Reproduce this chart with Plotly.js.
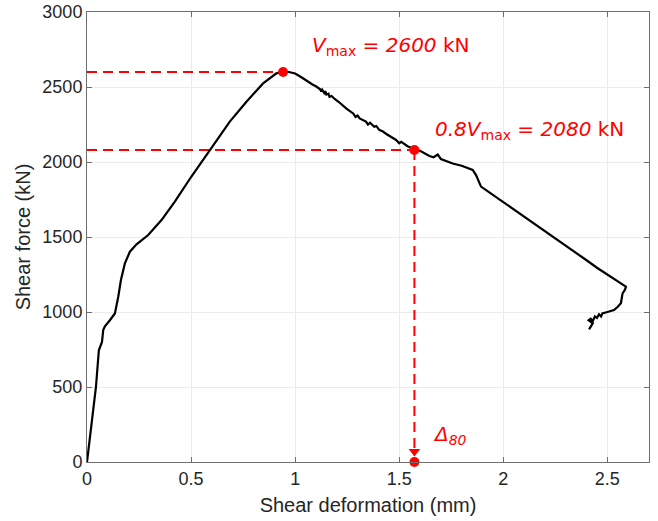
<!DOCTYPE html>
<html>
<head>
<meta charset="utf-8">
<script src="https://cdn.plot.ly/plotly-3.0.1.min.js"></script>
<style>html,body{margin:0;padding:0;background:#fff;}#chart{width:658px;height:521px;}</style>
</head>
<body>
<div id="chart"></div>
<script>
// Shear deformation (mm) and shear force (kN)
const deformation = [0, 0.02, 0.043, 0.057, 0.065, 0.072, 0.078, 0.086, 0.11, 0.134, 0.15, 0.163, 0.182, 0.206, 0.238, 0.294, 0.358, 0.422, 0.5, 0.59, 0.686, 0.766, 0.846, 0.91, 0.942, 0.97, 0.99, 1.0, 1.03, 1.061, 1.085, 1.10, 1.12, 1.125, 1.13, 1.14, 1.145, 1.15, 1.16, 1.165, 1.175, 1.19, 1.21, 1.245, 1.28, 1.29, 1.30, 1.31, 1.325, 1.34, 1.35, 1.36, 1.38, 1.39, 1.405, 1.42, 1.44, 1.46, 1.485, 1.50, 1.51, 1.54, 1.573, 1.60, 1.645, 1.665, 1.685, 1.70, 1.73, 1.757, 1.80, 1.837, 1.853, 1.869, 1.893, 2.0, 2.2, 2.40, 2.45, 2.52, 2.589, 2.585, 2.573, 2.570, 2.565, 2.55, 2.532, 2.50, 2.476, 2.47, 2.46, 2.45, 2.44, 2.43, 2.42, 2.41, 2.43, 2.412];
const shearForce = [0, 230, 500, 745, 775, 800, 880, 905, 945, 990, 1100, 1213, 1324, 1402, 1451, 1513, 1613, 1736, 1900, 2080, 2269, 2402, 2524, 2591, 2602, 2600, 2592, 2590, 2565, 2535, 2515, 2505, 2485, 2470, 2482, 2460, 2472, 2450, 2455, 2435, 2440, 2420, 2400, 2358, 2322, 2300, 2310, 2290, 2280, 2270, 2250, 2262, 2235, 2240, 2213, 2205, 2185, 2170, 2147, 2125, 2135, 2105, 2085, 2075, 2040, 2032, 2050, 2020, 2005, 1990, 1975, 1958, 1947, 1913, 1836, 1733, 1542, 1345, 1295, 1232, 1169, 1150, 1124, 1100, 1058, 1035, 1013, 1000, 991, 970, 985, 960, 970, 940, 955, 945, 925, 884];

const vMax = 2600;
const vMaxDef = 0.942;
const v80 = 2080;
const delta80 = 1.573;
const arrowY = 70;

const xTicks = [0, 0.5, 1, 1.5, 2, 2.5];
const yTicks = [0, 500, 1000, 1500, 2000, 2500, 3000];

const red = '#ff0000';
const dash = {color: red, width: 2, dash: '10px,6px'};

const traces = [
  {x: [0, vMaxDef], y: [vMax, vMax], mode: 'lines', line: dash, hoverinfo: 'skip'},
  {x: [0, delta80], y: [v80, v80], mode: 'lines', line: dash, hoverinfo: 'skip'},
  {x: [delta80, delta80], y: [v80, arrowY], mode: 'lines', line: dash, hoverinfo: 'skip'},
  {x: deformation, y: shearForce, mode: 'lines', line: {color: '#000000', width: 2.2}},
  {x: [vMaxDef, delta80, delta80], y: [vMax, v80, 0], mode: 'markers', marker: {color: red, size: 10}, cliponaxis: false},
  {x: [delta80], y: [arrowY], mode: 'markers', marker: {color: red, size: 10, symbol: 'triangle-down'}, cliponaxis: false}
];

const annFont = {family: 'DejaVu Sans, sans-serif', size: 20, color: red};
const layout = {
  width: 658, height: 521,
  margin: {l: 87, r: 9, t: 12, b: 59},
  paper_bgcolor: '#ffffff', plot_bgcolor: '#ffffff',
  showlegend: false,
  font: {family: 'Liberation Sans, Arial, sans-serif', color: '#262626', size: 18},
  xaxis: {
    range: [0, 2.7], tickvals: xTicks, ticktext: xTicks.map(String),
    showgrid: true, gridcolor: '#ebebeb', gridwidth: 1, zeroline: false,
    showline: true, linecolor: '#6e6e6e', linewidth: 1, mirror: 'ticks',
    ticks: 'inside', ticklen: 5, tickcolor: '#6e6e6e',
    tickfont: {size: 18, color: '#262626'},
    title: {text: 'Shear deformation (mm)', font: {size: 20, color: '#262626'}, standoff: 10}
  },
  yaxis: {
    range: [0, 3000], tickvals: yTicks, ticktext: yTicks.map(String),
    showgrid: true, gridcolor: '#ebebeb', gridwidth: 1, zeroline: false,
    showline: true, linecolor: '#6e6e6e', linewidth: 1, mirror: 'ticks',
    ticks: 'inside', ticklen: 5, tickcolor: '#6e6e6e',
    tickfont: {size: 18, color: '#262626'},
    title: {text: 'Shear force (kN)', font: {size: 20, color: '#262626'}, standoff: 6}
  },
  annotations: [
    {x: 1.07, y: 2773, xref: 'x', yref: 'y', xanchor: 'left', yanchor: 'middle', showarrow: false,
     text: '<i>V</i><sub>max</sub> = <i>2600</i> kN', font: annFont},
    {x: 1.66, y: 2213, xref: 'x', yref: 'y', xanchor: 'left', yanchor: 'middle', showarrow: false,
     text: '<i>0.8V</i><sub>max</sub> = <i>2080</i> kN', font: annFont},
    {x: 1.655, y: 180, xref: 'x', yref: 'y', xanchor: 'left', yanchor: 'middle', showarrow: false,
     text: '<i>Δ</i><sub><i>80</i></sub>', font: annFont}
  ]
};

Plotly.newPlot('chart', traces, layout, {displayModeBar: false, staticPlot: true});
</script>
</body>
</html>
